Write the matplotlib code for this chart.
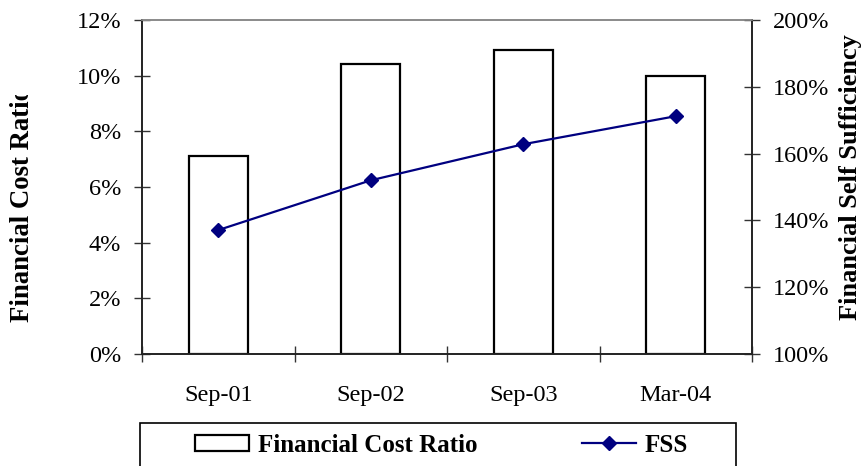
import numpy as np
import matplotlib
matplotlib.use("Agg")
import matplotlib.pyplot as plt
from matplotlib.ticker import PercentFormatter, MultipleLocator
from matplotlib.transforms import Bbox
from matplotlib.patches import Rectangle

# Financial cost ratio (bars, left axis) and FSS (line, right axis), in percent
periods = ["Sep-01", "Sep-02", "Sep-03", "Mar-04"]
cost_ratio = [7.13, 10.42, 10.91, 10.0]
fss = [137.1, 152.0, 162.8, 171.2]

plt.rcParams["font.family"] = ["Liberation Serif", "DejaVu Serif"]

W, H = 861, 466
fig = plt.figure(figsize=(W / 100, H / 100), dpi=100)
ax = fig.add_axes([142 / W, 1 - 354 / H, 610 / W, 334 / H])
ax2 = ax.twinx()

x = np.arange(len(periods))
bars = ax.bar(x, cost_ratio, width=0.39, color="white", edgecolor="black",
              linewidth=1.6, label="Financial Cost Ratio", zorder=2)
line, = ax2.plot(x, fss, color="#000080", lw=1.6, marker="D", markersize=7,
                 label="FSS", zorder=3)

ax.set_xlim(-0.5, len(periods) - 0.5)
ax.set_ylim(0, 12)
ax2.set_ylim(100, 200)
ax.yaxis.set_major_locator(MultipleLocator(2))
ax2.yaxis.set_major_locator(MultipleLocator(20))
ax.yaxis.set_major_formatter(PercentFormatter(100, decimals=0))
ax2.yaxis.set_major_formatter(PercentFormatter(100, decimals=0))

# category labels centred under the bars, ticks between categories
ax.set_xticks(np.arange(len(periods) + 1) - 0.5)
ax.set_xticklabels([])
ax.set_xticks(x, minor=True)
ax.set_xticklabels(periods, minor=True)
ax.tick_params(axis="x", which="minor", length=0, pad=22, labelsize=17.5)
ax.tick_params(axis="x", which="major", direction="inout", length=12,
               width=1, color="#333333")

for a in (ax, ax2):
    a.tick_params(axis="y", direction="inout", length=12, width=1,
                  color="#333333", pad=9, labelsize=17.5)
    for side in ("left", "right", "bottom"):
        a.spines[side].set_color("#222222")
        a.spines[side].set_linewidth(1.2)
    a.spines["top"].set_color("#8a8a8a")
    a.spines["top"].set_linewidth(1.2)
ax2.set_zorder(ax.get_zorder() + 1)
ax2.patch.set_visible(False)

# axis titles (the left one is cut off at the top)
left_title = fig.text(23 / W, 144 / H, "Financial Cost Ratio", rotation=90,
                      ha="center", va="bottom", fontsize=19.3, fontweight="bold")
left_title.set_clip_box(Bbox([[0, 0], [140, H - 95]]))
left_title.set_clip_on(True)
fig.text(851 / W, 146 / H, "Financial Self Sufficiency", rotation=90,
         ha="center", va="bottom", fontsize=19, fontweight="bold")

# legend box running off the bottom edge
fig.patches.append(Rectangle((140 / W, -0.05), 596 / W, 0.05 + (H - 423) / H,
                             transform=fig.transFigure, facecolor="white",
                             edgecolor="black", linewidth=1.2))
fig.legend([bars, line], ["Financial Cost Ratio", "FSS"], ncol=2,
           loc="center left", bbox_to_anchor=(195 / W, 21 / H), frameon=False,
           borderpad=0, borderaxespad=0, handlelength=2.15, handleheight=0.6,
           handletextpad=0.36, columnspacing=4.2,
           prop={"size": 18, "weight": "bold"})

fig.savefig("out.png", dpi=100)
